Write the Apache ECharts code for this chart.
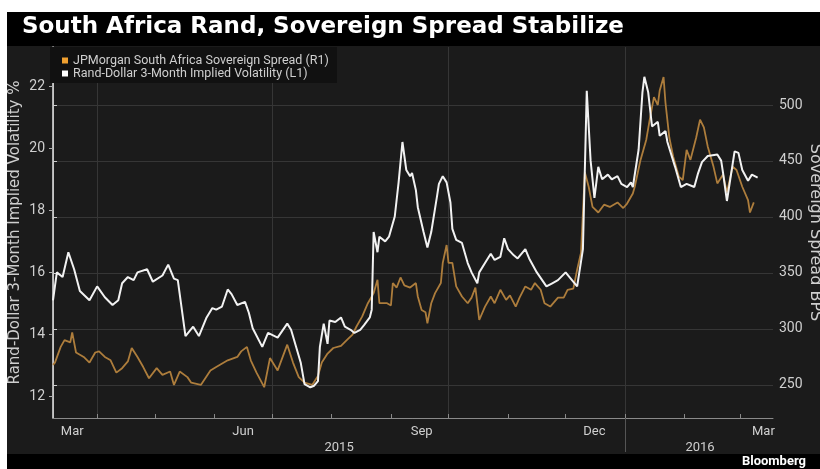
<!DOCTYPE html>
<html>
<head>
<meta charset="utf-8">
<script src="https://cdn.jsdelivr.net/npm/echarts@6/dist/echarts.min.js"></script>
<style>
  html, body { margin: 0; padding: 0; background: #fff; }
  #chart {
    width: 820px; height: 469px;
    background:
      linear-gradient(to right, #fff 0 7px, transparent 7px),
      linear-gradient(to bottom, #fff 0 12px, #000 12px 46px, #1b1b1b 46px 454px, #000 454px);
  }
</style>
</head>
<body>
<div id="chart"></div>
<script>
// days counted from 2015-03-09
let volDays = [0,2,5,8,11,14,19,23,27,31,34,36,39,42,44,49,52,57,60,63,65,69,73,76,80,83,85,88,91,93,96,100,102,104,109,112,117,122,124,129,131,134,136,138,139,141,143,144,147,150,152,155,157,160,162,165,166,167,169,170,173,175,178,180,182,184,186,187,189,190,193,195,197,200,201,203,205,207,208,210,213,216,218,221,222,225,228,230,233,235,237,240,242,246,248,252,257,260,263,267,269,273,276,278,280,282,284,286,289,291,294,296,299,301,302,305,307,308,310,312,315,316,319,320,324,327,330,334,336,338,341,346,348,349,351,353,355,357,359,362,364,367]
let vol = [15.1,16.0,15.85,16.65,16.1,15.4,15.1,15.55,15.2,14.95,15.1,15.65,15.85,15.75,16.0,16.1,15.7,15.9,16.25,15.8,15.75,13.95,14.25,13.95,14.55,14.85,14.8,14.9,15.45,15.3,14.95,15.05,14.7,14.2,13.6,14.05,13.9,14.35,14.15,13.1,12.4,12.3,12.35,12.5,13.6,14.35,13.7,14.45,14.4,14.55,14.25,14.15,14.05,14.15,14.3,14.55,14.8,17.3,16.65,17.15,17.0,17.15,17.8,18.9,20.2,19.3,19.1,19.2,18.65,18.1,17.3,16.8,17.3,18.45,18.85,19.1,18.9,18.25,17.4,17.05,16.95,16.3,16.0,15.65,16.0,16.3,16.6,16.4,16.5,17.1,16.75,16.55,16.45,16.75,16.45,16.0,15.55,15.65,15.75,16.0,15.85,15.55,16.75,21.85,19.6,18.4,19.4,19.0,19.15,19.0,19.1,18.85,18.75,18.9,18.75,19.95,21.8,22.3,21.8,20.7,20.85,20.4,20.55,20.2,19.4,18.75,18.85,18.75,19.2,19.55,19.75,19.8,19.6,19.2,18.3,19.1,19.9,19.85,19.3,18.95,19.15,19.05]

let spreadDays = [0,1,4,6,9,10,12,16,19,22,24,27,30,33,36,39,41,44,47,50,54,57,61,63,66,70,72,77,82,85,91,96,98,101,103,106,110,113,117,122,125,128,131,135,138,140,143,146,150,153,156,158,161,164,167,169,170,174,176,177,179,181,183,186,189,190,192,194,195,197,199,202,203,205,206,208,210,213,216,218,220,222,225,228,230,233,236,238,241,243,246,249,251,254,256,259,263,266,268,271,273,275,277,279,281,284,287,290,294,297,299,302,303,306,309,311,313,315,316,318,319,321,323,326,328,330,332,335,337,339,341,344,346,349,351,354,356,359,362,363,365]
let spread = [268,270,284,290,288,297,279,275,270,279,280,275,272,261,265,271,283,275,266,256,265,259,262,250,262,257,252,250,263,266,272,275,280,284,272,261,248,274,263,286,270,257,252,250,258,270,278,283,285,290,295,302,311,323,332,344,323,323,321,341,337,346,339,337,341,329,317,315,305,323,332,341,359,375,359,359,338,329,323,328,337,308,320,329,323,335,326,330,320,328,338,335,341,335,323,320,328,328,335,336,353,368,440,427,409,404,411,409,413,408,412,421,427,451,469,489,507,500,513,525,502,471,454,436,433,460,451,471,487,480,463,445,430,438,422,445,442,427,415,404,413]

let monthTickDays = [23,53,84,114,145,176,206,237,267,298,329,358]
let quarterDays = [23,114,206,298]
let monthLabelDays = [10,99,192,282,370]
let monthLabels = ['Mar','Jun','Sep','Dec','Mar']
let yearLabelDays = [149,337]
let yearLabels = ['2015','2016']
let yearBreakDays = [298]
let volTicks = [12,14,16,18,20,22]
let spreadTicks = [250,300,350,400,450,500]

let chart = echarts.init(document.getElementById('chart'), null, {renderer: 'canvas'})
let font = 'Roboto, "DejaVu Sans", sans-serif'
let wideFont = '"DejaVu Sans", sans-serif'
let axisText = '#cfcfcf'

let option = {
  animation: false,
  backgroundColor: 'transparent',
  textStyle: {fontFamily: font},
  title: [{
    text: 'South Africa Rand, Sovereign Spread Stabilize',
    left: 22, top: 16, padding: 0,
    textStyle: {color: '#fff', fontSize: 23, fontWeight: 'bold', fontFamily: wideFont}
  }, {
    text: 'Bloomberg',
    right: 14, top: 455, padding: 0,
    textStyle: {color: '#fff', fontSize: 13, fontWeight: 'bold', fontFamily: font}
  }],
  legend: {
    orient: 'vertical',
    left: 50, top: 47,
    padding: [7, 8, 3, 12],
    backgroundColor: '#111',
    itemWidth: 6, itemHeight: 6, itemGap: 0,
    textStyle: {color: axisText, fontSize: 12.5, lineHeight: 12.5, fontFamily: font},
    data: [
      {name: 'JPMorgan South Africa Sovereign Spread (R1)', icon: 'rect', itemStyle: {color: '#f0a030'}},
      {name: 'Rand-Dollar 3-Month Implied Volatility (L1)', icon: 'rect', itemStyle: {color: '#fff'}}
    ]
  },
  grid: {left: 53, right: 47, top: 47, bottom: 51, containLabel: false, outerBoundsMode: 'none'},
  xAxis: [{
    type: 'value', min: 0, max: 375, position: 'bottom',
    axisLine: {show: true, lineStyle: {color: '#8a8a8a', width: 1}},
    axisTick: {show: true, inside: true, length: 4, customValues: monthTickDays, lineStyle: {color: '#8a8a8a'}},
    axisLabel: {
      customValues: monthLabelDays, color: axisText, fontSize: 13, margin: 7,
      formatter: v => monthLabels[monthLabelDays.indexOf(v)]
    },
    splitLine: {show: false}
  }, {
    type: 'value', min: 0, max: 375, position: 'bottom',
    axisLine: {show: false},
    axisTick: {show: true, inside: false, length: 34, customValues: yearBreakDays, lineStyle: {color: '#555'}},
    axisLabel: {
      customValues: yearLabelDays, color: axisText, fontSize: 13, margin: 23,
      formatter: v => yearLabels[yearLabelDays.indexOf(v)]
    },
    splitLine: {show: false}
  }, {
    type: 'value', min: 0, max: 375, position: 'top',
    axisLine: {show: false},
    axisTick: {show: false, customValues: quarterDays},
    axisLabel: {show: false},
    splitLine: {show: true, lineStyle: {color: '#363636', width: 1}}
  }],
  yAxis: [{
    type: 'value', min: 11.31, max: 23.26, position: 'left',
    name: 'Rand-Dollar 3-Month Implied Volatility %',
    nameLocation: 'middle', nameGap: 30, nameMoveOverlap: false,
    nameTextStyle: {color: axisText, fontSize: 15, fontFamily: wideFont},
    axisLine: {show: true, lineStyle: {color: '#6a6a6a'}},
    axisTick: {show: true, length: 4, customValues: volTicks, lineStyle: {color: '#aaa'}},
    axisLabel: {customValues: volTicks, color: axisText, fontSize: 14, margin: 8},
    splitLine: {show: false}
  }, {
    type: 'value', min: 220.5, max: 551.8, position: 'right',
    name: 'Sovereign Spread BPS',
    nameLocation: 'middle', nameGap: 34, nameRotate: -90, nameMoveOverlap: false,
    nameTextStyle: {color: axisText, fontSize: 16, fontFamily: wideFont},
    axisLine: {show: true, lineStyle: {color: '#e6e6e6', width: 1.5}},
    axisTick: {show: true, length: 4, customValues: spreadTicks, lineStyle: {color: '#ccc'}},
    axisLabel: {customValues: spreadTicks, color: axisText, fontSize: 14, margin: 6},
    splitLine: {show: true, lineStyle: {color: '#363636', width: 1}}
  }],
  series: [{
    name: 'JPMorgan South Africa Sovereign Spread (R1)',
    type: 'line', xAxisIndex: 0, yAxisIndex: 1,
    showSymbol: false,
    lineStyle: {color: '#ad7d3c', width: 1.8},
    itemStyle: {color: '#ad7d3c'},
    data: spreadDays.map((d, i) => [d, spread[i]])
  }, {
    name: 'Rand-Dollar 3-Month Implied Volatility (L1)',
    type: 'line', xAxisIndex: 0, yAxisIndex: 0,
    showSymbol: false,
    lineStyle: {color: '#f2f2f2', width: 2},
    itemStyle: {color: '#f2f2f2'},
    data: volDays.map((d, i) => [d, vol[i]])
  }]
}

chart.setOption(option)
</script>
</body>
</html>
